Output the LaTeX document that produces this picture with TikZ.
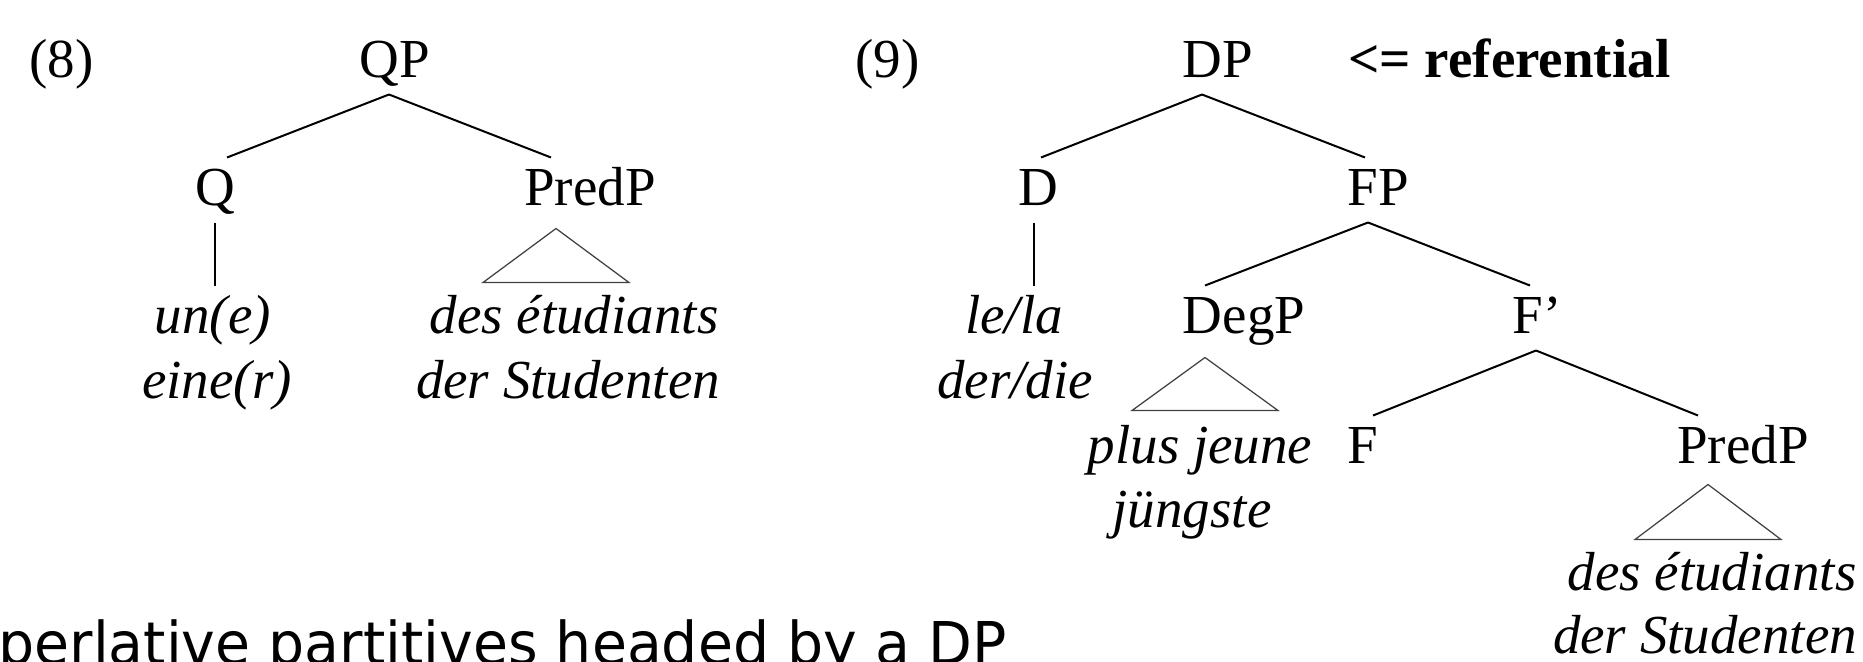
\documentclass[tikz,border=0pt]{standalone}
\usepackage{graphicx}
\usepackage{fontspec}
\setmainfont{Liberation Serif}
\newfontfamily\captionfont{DejaVu Sans}
\usetikzlibrary{calc}
\begin{document}
\begin{tikzpicture}[x=0.4pt,y=-0.4pt,
  lbl/.style={anchor=base, inner sep=0pt, inner ysep=6.8pt, text height=12pt, text depth=0pt,
              font=\fontsize{22}{26}\selectfont},
  leaf/.style={lbl, font=\fontsize{22}{26}\selectfont\itshape},
  lastleaf/.style={anchor=base, inner sep=0pt, font=\fontsize{22}{26}\selectfont\itshape},
  exnum/.style={anchor=base west, inner sep=0pt, font=\fontsize{22}{26}\selectfont},
  branch/.style={line width=0.8pt},
  tri/.style={line width=0.5pt, draw=black!75}
]
\useasboundingbox (0,0) rectangle (1863,661);
\clip (0,0) rectangle (1863,661);

% ---------- (8) QP tree ----------
\node[exnum] (ex8) at (29,77) {(8)};
\node[lbl] (QP) at (395,77) {QP};
\node[lbl] (Q) at (215,205) {Q};
\node[lbl] (PredPL) at (590,205) {PredP};
\node[leaf] (une) at (213,333) {un(e)};
\node[lastleaf] (einer) at (217,398) {eine(r)};
\node[leaf] (desL) at (574,333) {des étudiants};
\node[lastleaf] (derL) at (568,398) {der Studenten};

\draw[branch] ($(QP.south)+(-6,0)$) -- ($(Q.north)+(12,0)$);
\draw[branch] ($(QP.south)+(-6,0)$) -- ($(PredPL.north)+(-39,0)$);
\draw[branch] (Q.south) -- (Q.south |- une.north);
\draw[tri] ($(PredPL.south)+(-34,6)$) -- ++(73,54) -- ++(-146,0) -- cycle;

% ---------- (9) DP tree ----------
\node[exnum] (ex9) at (855,77) {(9)};
\node[lbl] (DP) at (1218,77) {DP};
\node[exnum, font=\fontsize{22}{26}\selectfont\bfseries] (refl) at (1348,77) {<= referential};
\node[lbl] (D) at (1038,205) {D};
\node[lbl] (FP) at (1378,205) {FP};
\node[leaf] (lela) at (1014,333) {le/la};
\node[lastleaf] (derdie) at (1015,398) {der/die};
\node[lbl] (DegP) at (1244,333) {DegP};
\node[lbl] (Fbar) at (1537,333) {F’};
\node[leaf] (plusj) at (1200,463) {plus jeune};
\node[lastleaf] (jung) at (1192,527) {jüngste};
\node[lbl] (F) at (1363,463) {F};
\node[lbl] (PredPR) at (1743,463) {PredP};
\node[lastleaf] (desR) at (1712,590) {des étudiants};
\node[lastleaf] (derR) at (1705,653) {der Studenten};

\draw[branch] ($(DP.south)+(-16,0)$) -- ($(D.north)+(3,0)$);
\draw[branch] ($(DP.south)+(-16,0)$) -- ($(FP.north)+(-13,0)$);
\draw[branch] ($(D.south)+(-4,0)$) -- ($(D.south |- lela.north)+(-4,0)$);
\draw[branch] ($(FP.south)+(-10,0)$) -- ($(DegP.north)+(-39,0)$);
\draw[branch] ($(FP.south)+(-10,0)$) -- ($(Fbar.north)+(-7,0)$);
\draw[tri] ($(DegP.south)+(-39,7)$) -- ++(73,53) -- ++(-146,0) -- cycle;
\draw[branch] ($(Fbar.south)+(-1,0)$) -- ($(F.north)+(10,0)$);
\draw[branch] ($(Fbar.south)+(-1,0)$) -- ($(PredPR.north)+(-45,0)$);
\draw[tri] ($(PredPR.south)+(-35,4)$) -- ++(73,55) -- ++(-146,0) -- cycle;

% ---------- heading line below, running off the lower edge ----------
\node[anchor=base west, inner sep=0pt, font=\captionfont\fontsize{23.6}{28}\selectfont] (caption) at (-2,664)
  {\scalebox{0.965}[1]{perlative partitives headed by a DP}};
\end{tikzpicture}
\end{document}
